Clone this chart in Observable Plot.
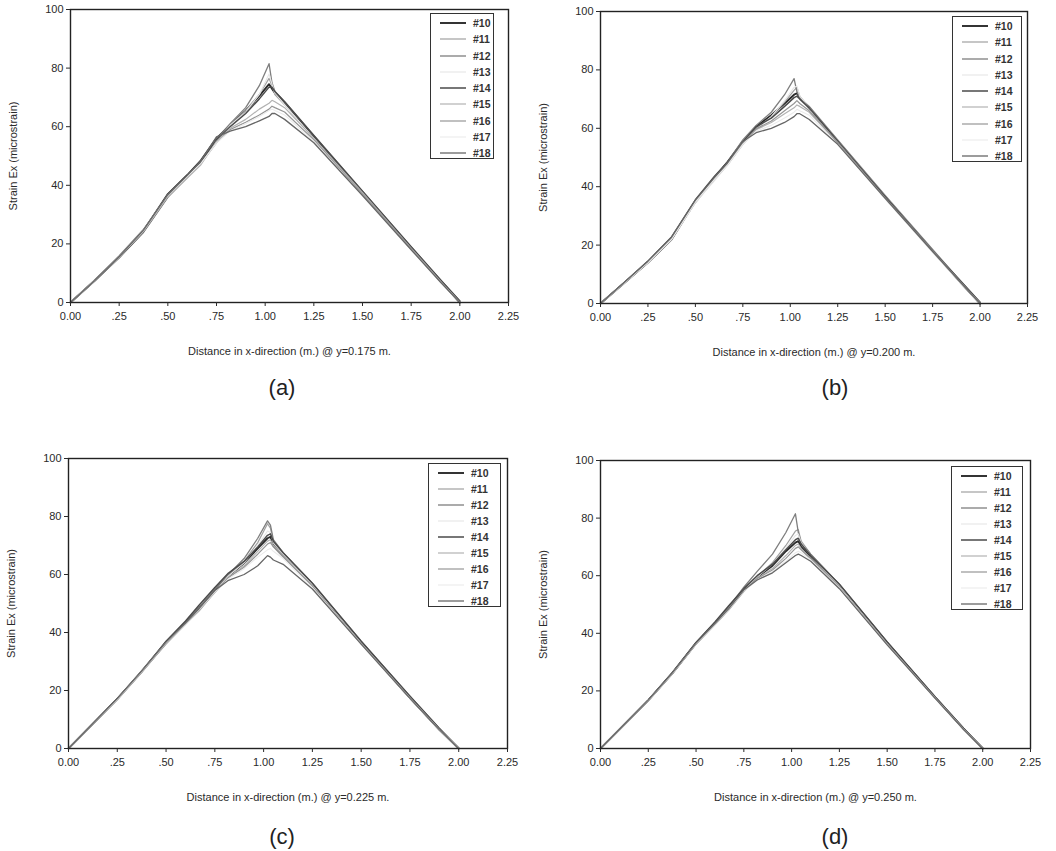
<!DOCTYPE html>
<html><head><meta charset="utf-8">
<script src="https://cdn.jsdelivr.net/npm/d3@7"></script>
<script src="https://cdn.jsdelivr.net/npm/@observablehq/plot@0.6"></script>
<style>
body{margin:0;background:#fff;font-family:"Liberation Sans",Arial,sans-serif;}
#root{position:relative;width:1056px;height:851px;overflow:hidden;background:#fff;}
.panel{position:absolute;}
.legend{position:absolute;border:1.3px solid #333;background:#fff;box-sizing:border-box;}
.legend .row{position:absolute;left:0;height:12px;display:flex;align-items:center;}
.legend .row span{font-size:10.5px;font-weight:bold;color:#333;margin-left:7px;}
.tag{position:absolute;font-size:22px;color:#222;transform:translate(-50%,-50%);}
</style></head><body><div id="root"></div>
<script>
// shared x positions (m)
const xNodes = [0, 0.125, 0.25, 0.375, 0.5, 0.6, 0.67, 0.75, 0.82, 0.9, 0.97, 1.02, 1.035, 1.05, 1.1, 1.25, 1.5, 1.75, 1.9, 2.0];
const seriesNames = ["#10", "#11", "#12", "#13", "#14", "#15", "#16", "#17", "#18"];
const seriesColors = ["#2a2a2a", "#a0a0a0", "#7e7e7e", "#e6e6e6", "#4a4a4a", "#b2b2b2", "#959595", "#ebebeb", "#666666"];
const seriesWidths = [1.9, 1.2, 1.3, 1.1, 1.5, 1.2, 1.2, 1.1, 1.3];
const xTicks = [0, 0.25, 0.5, 0.75, 1.0, 1.25, 1.5, 1.75, 2.0, 2.25];
const yTicks = [0, 20, 40, 60, 80, 100];
const panelTags = ["(a)", "(b)", "(c)", "(d)"];
const panelYPos = ["0.175", "0.200", "0.225", "0.250"];

// Strain Ex (microstrain), rows follow seriesNames
const strainA = [
  [0, 7.5, 15.5, 24.5, 37, 43.5, 48.5, 56, 60.5, 65.5, 70.5, 74.5, 73, 71.5, 68, 56.5, 37.5, 18.5, 7.5, 0],
  [0, 7.8, 16, 25, 36.5, 43, 48, 55.5, 60.5, 65.5, 71, 76.5, 74, 71, 67.5, 56, 37, 18.5, 7.5, 0],
  [0, 7.6, 15.8, 24.8, 36.8, 43.2, 48.2, 55.8, 61, 66.5, 74, 81.5, 75, 72, 68.5, 57, 38, 19, 7.8, 0.5],
  [0, 7.5, 15.5, 24.5, 36, 42.5, 47.5, 55, 60.5, 65, 71, 78, 74.5, 71.5, 67.5, 56, 37, 18, 7, 0],
  [0, 7.5, 15.3, 24, 36, 42.8, 47.8, 55.5, 60, 64.5, 69.5, 73.5, 73.5, 72, 68.5, 57, 38, 19, 7.8, 0.5],
  [0, 7.4, 15.5, 24.2, 36, 42.5, 47, 55, 59.5, 62.5, 66, 68, 69, 68.5, 66.5, 56, 37.5, 18.5, 7.3, 0],
  [0, 7.6, 15.6, 24.6, 36.5, 43, 47.5, 54.5, 59, 61.5, 64, 66, 67, 66.5, 65, 55.5, 37, 18.5, 7.2, 0],
  [0, 7.5, 15.5, 24.5, 36.5, 43, 47.5, 54.5, 58.5, 61, 63.5, 65.5, 66, 65.5, 64, 55, 36.5, 18, 7, 0],
  [0, 7.5, 15.6, 24.7, 36.8, 43.4, 48.4, 56.5, 58.5, 60, 62, 63.5, 64.5, 64.5, 62.5, 54.5, 36.5, 18, 7, 0]
];
const strainB = [
  [0, 7, 14, 22, 35, 43, 48.5, 55.5, 60.5, 64.5, 68.5, 71.5, 72, 70.5, 67, 55.5, 36.5, 18, 7, 0],
  [0, 7.2, 14.3, 22.5, 34.5, 42.5, 48, 55, 60, 64, 69, 73, 74, 71, 67, 55, 36, 18, 7.2, 0],
  [0, 7, 14, 22.3, 35.2, 43, 48.5, 56, 61, 65.5, 71.5, 77, 72.5, 70.5, 67.5, 56, 37, 18.5, 7.5, 0.5],
  [0, 7, 14, 22, 34.5, 42, 47.5, 54.5, 59.5, 64, 69.5, 74, 74.5, 71, 67, 55, 36, 17.5, 7, 0],
  [0, 7.2, 14.5, 22.8, 35.5, 43.5, 48.5, 55, 60.5, 63.5, 67.5, 70.5, 71, 70, 67, 55.5, 36.5, 18, 7.5, 0.3],
  [0, 7, 14.2, 22.4, 35, 42.5, 47.5, 54.5, 59.5, 62, 65, 67, 68, 67.5, 65.5, 55, 36, 17.8, 7, 0],
  [0, 7.1, 14.3, 22.5, 35, 42.8, 48, 55, 59.8, 62.5, 66, 68.5, 69.5, 68.5, 66, 55.2, 36.2, 18, 7.2, 0],
  [0, 7, 14, 22, 34.8, 42.5, 47.5, 54.5, 59, 61, 63.5, 65.5, 66.5, 66, 64.5, 54.5, 35.8, 17.5, 6.8, 0],
  [0, 7.2, 14.5, 22.8, 35.4, 43.2, 48.3, 55.5, 58.5, 60, 62, 64, 65, 65, 63, 54.5, 36, 17.8, 7, 0]
];
const strainC = [
  [0, 8.5, 17, 26.5, 36.5, 43.5, 48.5, 54.5, 59.5, 64, 69, 72.5, 73, 70, 66.5, 56.5, 36.5, 17.5, 6.5, 0],
  [0, 8.5, 17, 26.5, 36, 43, 47.5, 54, 59.5, 64.5, 71, 77.5, 76, 71, 67, 56.5, 36.5, 17.5, 6.5, 0],
  [0, 8.5, 17.2, 26.8, 36.8, 43.5, 48.5, 55, 60, 65.5, 72.5, 78.5, 77, 72, 67.5, 57, 37, 18, 7, 0.3],
  [0, 8.5, 17, 26.5, 36.5, 43, 48, 54, 59.5, 64, 70, 75, 74.5, 71, 67, 56.5, 36.5, 17.5, 6.5, 0],
  [0, 8.6, 17.2, 26.5, 37, 44, 49.5, 55.5, 60.5, 64.5, 69.5, 73.5, 74, 71.5, 67.5, 57, 37, 18, 7, 0],
  [0, 8.4, 16.8, 26.2, 36.2, 42.8, 47.8, 53.8, 59, 63, 68, 71.5, 72, 70, 66.5, 56, 36, 17.3, 6.5, 0],
  [0, 8.5, 17, 26.4, 36.4, 43, 48, 54, 59, 62.5, 67, 70.5, 71, 69.5, 66, 56, 36.2, 17.5, 6.6, 0],
  [0, 8.5, 17, 26.5, 36.5, 43, 48, 54, 58.5, 62, 66, 68.5, 69, 68, 65.5, 55.5, 36, 17.3, 6.5, 0],
  [0, 8.6, 17.2, 26.7, 36.7, 43.3, 48.3, 54.5, 58, 60, 63, 66.5, 66, 65, 63.5, 55, 36, 17.3, 6.5, 0]
];
const strainD = [
  [0, 8.3, 16.7, 26, 36.5, 43.5, 48.5, 55, 59.5, 63.5, 68.5, 71.5, 72, 70, 66.5, 56.5, 36.5, 17.8, 6.8, 0],
  [0, 8.3, 16.6, 26, 36.3, 43.2, 48.2, 55, 59.8, 64.5, 70.5, 75.5, 76, 72, 67.5, 57, 37, 18, 7, 0],
  [0, 8.4, 16.8, 26.2, 36.8, 43.8, 49, 56, 61.5, 67.5, 75, 81.5, 75, 71.5, 67.5, 57, 37, 18, 7, 0.3],
  [0, 8.3, 16.6, 26, 36.5, 43.5, 48.5, 55, 59.5, 64, 69.5, 74, 74.5, 71.5, 67, 56.5, 36.5, 17.8, 6.8, 0],
  [0, 8.4, 16.8, 26.3, 36.8, 44, 49.5, 55.5, 60, 64, 69, 72.5, 73, 71, 67, 57, 37, 18, 7, 0],
  [0, 8.3, 16.6, 25.9, 36.2, 43, 48, 54.5, 59, 62.5, 67, 70.5, 71, 69.5, 66, 56.2, 36.3, 17.6, 6.7, 0],
  [0, 8.3, 16.7, 26, 36.4, 43.3, 48.3, 54.8, 59, 62, 66, 69.5, 70, 69, 65.8, 56, 36.2, 17.6, 6.7, 0],
  [0, 8.3, 16.7, 26, 36.4, 43.2, 48.2, 54.7, 58.5, 61.5, 65, 68, 68.5, 68, 65.5, 55.8, 36, 17.5, 6.6, 0],
  [0, 8.4, 16.8, 26.2, 36.6, 43.5, 48.5, 55, 58.5, 61, 64.5, 67, 67.5, 67, 65, 55.5, 36, 17.5, 6.6, 0]
];
const panelData = [strainA, strainB, strainC, strainD];

// layout (pixel positions of each plot frame in the page)
const layout = [
  {fl: 70, fr: 508, ft: 9, fb: 302, lg: {l: 430, t: 13, w: 64, h: 146}, tag: {x: 282, y: 388}},
  {fl: 600, fr: 1027, ft: 11, fb: 303, lg: {l: 952, t: 16, w: 70, h: 146}, tag: {x: 835, y: 388}},
  {fl: 68, fr: 507, ft: 458, fb: 748, lg: {l: 428, t: 463, w: 73, h: 144}, tag: {x: 282, y: 837}},
  {fl: 600, fr: 1030, ft: 460, fb: 748, lg: {l: 951, t: 466, w: 72, h: 144}, tag: {x: 835, y: 837}}
];
const mL = 70, mR = 17, mT = 9, mB = 58;

const fmtX = d => d === 0 ? "0.00" : (d < 1 ? d.toFixed(2).slice(1) : d.toFixed(2));
const root = document.getElementById("root");

panelData.forEach((rows, p) => {
  const L = layout[p];
  const table = [];
  rows.forEach((vals, s) => vals.forEach((v, i) => table.push({series: seriesNames[s], x: xNodes[i], y: v})));
  const marks = [];
  seriesNames.forEach((name, s) => {
    marks.push(Plot.line(table.filter(d => d.series === name), {
      x: "x", y: "y", stroke: seriesColors[s], strokeWidth: seriesWidths[s], strokeLinejoin: "round"
    }));
  });
  marks.push(Plot.frame({stroke: "#222", strokeWidth: 1.4}));
  marks.push(Plot.axisX({ticks: xTicks, tickFormat: fmtX, tickSize: 4, tickPadding: 6, fontSize: 11,
    label: `Distance in x-direction (m.) @ y=${panelYPos[p]} m.`, labelAnchor: "center", labelOffset: 52, labelArrow: false}));
  marks.push(Plot.axisY({ticks: yTicks, tickSize: 4, tickPadding: 3, fontSize: 11,
    label: "Strain Ex (microstrain)", labelAnchor: "center", labelOffset: 61, labelArrow: false}));
  const chart = Plot.plot({
    width: L.fr - L.fl + mL + mR,
    height: L.fb - L.ft + mT + mB,
    marginLeft: mL, marginRight: mR, marginTop: mT, marginBottom: mB,
    style: {fontFamily: "'Liberation Sans', Arial, sans-serif", color: "#2a2a2a", background: "transparent", overflow: "visible"},
    x: {domain: [0, 2.25]},
    y: {domain: [0, 100]},
    marks
  });
  const wrap = document.createElement("div");
  wrap.className = "panel";
  wrap.style.left = (L.fl - mL) + "px";
  wrap.style.top = (L.ft - mT) + "px";
  wrap.appendChild(chart);
  root.appendChild(wrap);

  // legend box
  const lg = document.createElement("div");
  lg.className = "legend";
  Object.assign(lg.style, {left: L.lg.l + "px", top: L.lg.t + "px", width: L.lg.w + "px", height: L.lg.h + "px"});
  const rowGap = (L.lg.h - 16) / (seriesNames.length - 1) ;
  seriesNames.forEach((name, s) => {
    const r = document.createElement("div");
    r.className = "row";
    r.style.top = (9 + s * rowGap - 6) + "px";
    r.style.left = "9px";
    r.innerHTML = `<svg width="26" height="4"><line x1="0" x2="26" y1="2" y2="2" stroke="${seriesColors[s]}" stroke-width="${seriesWidths[s]}"/></svg><span>${name}</span>`;
    lg.appendChild(r);
  });
  root.appendChild(lg);

  const tag = document.createElement("div");
  tag.className = "tag";
  tag.style.left = L.tag.x + "px";
  tag.style.top = L.tag.y + "px";
  tag.textContent = panelTags[p];
  root.appendChild(tag);
});
</script></body></html>
